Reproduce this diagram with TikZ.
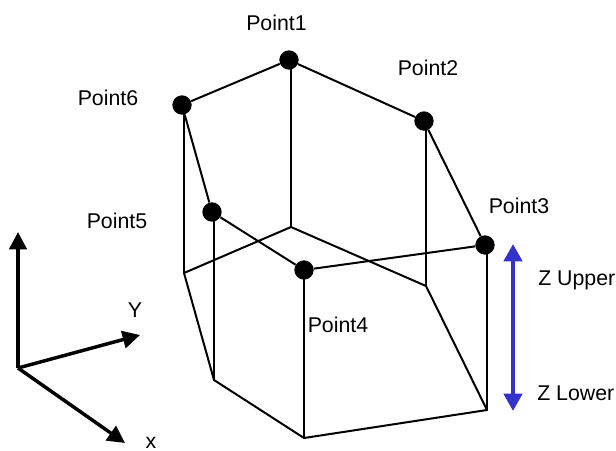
\documentclass[tikz,border=0pt]{standalone}
\usepackage{fontspec}
\setmainfont{Liberation Sans}
\usetikzlibrary{arrows.meta}
\definecolor{zblue}{RGB}{51,51,204}
\tikzset{
    dot/.style={circle, fill=black, draw=none, minimum size=14.5pt, inner sep=0pt},
    edge/.style={black, line width=1.5pt},
    axis/.style={black, line width=2.6pt, -{Triangle[length=13pt, width=13pt]}},
    zarrow/.style={zblue, line width=3.6pt, {Triangle[length=13pt, width=13.5pt]}-{Triangle[length=13pt, width=13.5pt]}},
    lbl/.style={font=\fontsize{16}{18}\selectfont, inner sep=0pt}
}
\begin{document}
\begin{tikzpicture}[x=0.75pt, y=-0.75pt]
    \useasboundingbox (0,0) rectangle (616,450);

    % upper corners
    \node[dot] (p1) at (289,60) {};
    \node[dot] (p2) at (424,121) {};
    \node[dot] (p3) at (485,245) {};
    \node[dot] (p4) at (304,270) {};
    \node[dot] (p5) at (212,212) {};
    \node[dot] (p6) at (182,105) {};

    % lower corners
    \coordinate (l1) at (291,227);
    \coordinate (l2) at (426,286);
    \coordinate (l3) at (487,410);
    \coordinate (l4) at (304,438);
    \coordinate (l5) at (214,380);
    \coordinate (l6) at (184,273);

    % upper ring
    \draw[edge] (p1) -- (p2);
    \draw[edge] (p2) -- (p3);
    \draw[edge] (p3) -- (p4);
    \draw[edge] (p4) -- (p5);
    \draw[edge] (p5) -- (p6);
    \draw[edge] (p6) -- (p1);

    % lower ring
    \draw[edge, line join=round] (l1) -- (l2) -- (l3) -- (l4) -- (l5) -- (l6) -- cycle;

    % verticals
    \draw[edge] (l1 |- p1) -- (l1);
    \draw[edge] (l2 |- p2) -- (l2);
    \draw[edge] (l3 |- p3) -- (l3);
    \draw[edge] (l4 |- p4) -- (l4);
    \draw[edge] (l5 |- p5) -- (l5);
    \draw[edge] (l6 |- p6) -- (l6);

    % labels
    \node[lbl] (t1) at (276.5,23) {Point1};
    \node[lbl] (t2) at (428,68) {Point2};
    \node[lbl] (t3) at (519,206) {Point3};
    \node[lbl] (t4) at (338,325) {Point4};
    \node[lbl] (t5) at (117,221) {Point5};
    \node[lbl] (t6) at (108,98) {Point6};

    % coordinate axes
    \coordinate (o) at (18,368);
    \coordinate (ztip) at (18,232);
    \coordinate (ytip) at (140,335);
    \coordinate (xtip) at (125,443);
    \draw[axis] (o) -- (ztip);
    \draw[axis] (o) -- (ytip);
    \draw[axis] (o) -- (xtip);
    \node[lbl] (ylbl) at (135,310) {Y};
    \node[lbl] (xlbl) at (151,443) {x};

    % z range
    \coordinate (zup) at (513,244);
    \coordinate (zlo) at (513,411);
    \draw[zarrow] (zup) -- (zlo);
    \node[lbl, anchor=west] (zu) at (538,280) {Z Upper};
    \node[lbl, anchor=west] (zl) at (537,393) {Z Lower};
\end{tikzpicture}
\end{document}
